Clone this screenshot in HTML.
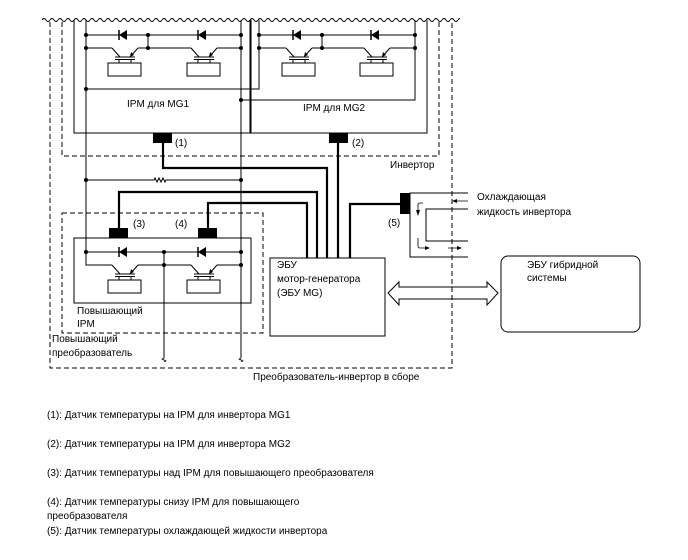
<!DOCTYPE html>
<html><head><meta charset="utf-8"><style>
html,body{margin:0;padding:0;background:#fff}
svg{display:block}
text{font-family:"Liberation Sans",sans-serif;font-size:10px;fill:#000}
</style></head><body>
<svg width="688" height="560" viewBox="0 0 688 560" xmlns="http://www.w3.org/2000/svg">
<defs>
<g id="cell" stroke="#000" stroke-width="1" fill="none">
<polygon points="0,0 8,-5 8,5" fill="#000" stroke="none"/>
<line x1="0" y1="-5" x2="0" y2="5" stroke-width="1.5"/>
<line x1="-7" y1="13" x2="1" y2="22"/>
<line x1="19" y1="13" x2="11" y2="22"/>
<polygon points="11,22 12,17 15,20" fill="#000" stroke="none"/>
<line x1="-4" y1="22" x2="16" y2="22"/>
<line x1="-4" y1="24.5" x2="16" y2="24.5"/>
<line x1="0" y1="24.5" x2="0" y2="28"/>
<line x1="12" y1="24.5" x2="12" y2="28"/>
<rect x="-11" y="28" width="33" height="13"/>
</g>
<pattern id="wave" x="42" y="16" width="8" height="8" patternUnits="userSpaceOnUse">
<path d="M0,4 q2,-3 4,0 q2,3 4,0" stroke="#000" fill="none"/>
</pattern>
</defs>
<!-- wavy top -->
<rect x="42" y="16" width="418" height="8" fill="url(#wave)"/>
<g fill="none" stroke="#000" stroke-width="1">
<!-- dashed boundaries -->
<g stroke-dasharray="5,3">
<path d="M50,22 V368 H452 V22"/>
<path d="M62,22 V156 H439 V22"/>
<rect x="62" y="213" width="201" height="120"/>
</g>
<!-- IPM boxes -->
<path d="M74,20 V133 H250 V20"/>
<path d="M251,20 V133 H427 V20"/>
<rect x="74" y="238" width="177" height="65"/>
<!-- verticals -->
<path d="M86,20 V265 H112"/>
<path d="M241,20 V358"/>
<path d="M259,20 V89 H86"/>
<path d="M415,20 V100 H241"/>
<path d="M148,35 V48 M322,35 V48"/>
<path d="M164,252 V358"/>
<path d="M162,360 q1,-3 2,0 q1,3 2,0 M239,360 q1,-3 2,0 q1,3 2,0"/>
<!-- rows -->
<path d="M86,35 H241 M259,35 H415 M86,252 H241"/>
<path d="M86,48 H112 M138,48 H191 M217,48 H241"/>
<path d="M259,48 H286 M312,48 H364 M390,48 H415"/>
<path d="M138,265 H191 M217,265 H241"/>
<!-- resistor line -->
<path d="M86,180 H154 l1,-2 l2,4 l2,-4 l2,4 l2,-4 l2,4 l1,-2 H241"/>
<!-- ECU box -->
<rect x="270" y="258" width="115" height="78"/>
<!-- hybrid ECU -->
<rect x="501" y="256" width="139" height="76" rx="7"/>
<!-- double arrow -->
<polygon points="388,293 399,282 399,287 487,287 487,282 498,293 487,305 487,299 399,299 399,305"/>
<!-- coolant -->
<path d="M468,193 H410 V257 H468"/>
<path d="M468,209 H426 V241 H468"/>
<path d="M423,203 H420 q-2,0 -2,2 V211 M418,238 V246 q0,2 2,2 H426 M448,248 H458 M468,201 H457" stroke-width="0.8"/>
</g>
<!-- thick wires -->
<g fill="none" stroke="#000" stroke-width="2.2">
<path d="M163,143 V168 H327 V258"/>
<path d="M338,143 V258"/>
<path d="M119,228 V192 H317 V258"/>
<path d="M208,228 V203 H307 V258"/>
<path d="M400,204 H350 V258"/>
</g>
<!-- sensors -->
<g fill="#000">
<rect x="153" y="133" width="19" height="10"/>
<rect x="329" y="133" width="19" height="10"/>
<rect x="109" y="228" width="19" height="10"/>
<rect x="198" y="228" width="19" height="10"/>
<rect x="400" y="193" width="10" height="21"/>
<polygon points="416,210 420,210 418,216"/>
<polygon points="425,246 425,250 430,248"/>
<polygon points="457,246 457,250 462,248"/>
<polygon points="457,199 457,203 452,201"/>
</g>
<!-- cells -->
<use href="#cell" x="119" y="35"/>
<use href="#cell" x="198" y="35"/>
<use href="#cell" x="293" y="35"/>
<use href="#cell" x="371" y="35"/>
<use href="#cell" x="119" y="252"/>
<use href="#cell" x="198" y="252"/>
<!-- dots -->
<g fill="#000">
<circle cx="86" cy="35" r="2"/><circle cx="86" cy="48" r="2"/><circle cx="148" cy="35" r="2"/><circle cx="148" cy="48" r="2"/>
<circle cx="241" cy="35" r="2"/><circle cx="241" cy="48" r="2"/>
<circle cx="259" cy="35" r="2"/><circle cx="259" cy="48" r="2"/><circle cx="322" cy="35" r="2"/><circle cx="322" cy="48" r="2"/>
<circle cx="415" cy="35" r="2"/><circle cx="415" cy="48" r="2"/>
<circle cx="86" cy="89" r="2"/><circle cx="241" cy="100" r="2"/>
<circle cx="86" cy="180" r="2"/><circle cx="241" cy="180" r="2"/>
<circle cx="86" cy="252" r="2"/><circle cx="164" cy="252" r="2"/><circle cx="164" cy="265" r="2"/>
<circle cx="241" cy="252" r="2"/><circle cx="241" cy="265" r="2"/>
</g>
<!-- labels -->
<text x="127" y="107">IPM для MG1</text>
<text x="303" y="111">IPM для MG2</text>
<text x="175" y="146">(1)</text>
<text x="352" y="146">(2)</text>
<text x="390" y="168">Инвертор</text>
<text x="133" y="227">(3)</text>
<text x="175" y="227">(4)</text>
<text x="388" y="226">(5)</text>
<text x="477" y="200">Охлаждающая</text>
<text x="477" y="215">жидкость инвертора</text>
<text x="277" y="268">ЭБУ</text>
<text x="277" y="282">мотор-генератора</text>
<text x="277" y="296">(ЭБУ MG)</text>
<text x="527" y="268">ЭБУ гибридной</text>
<text x="527" y="281">системы</text>
<text x="77" y="314">Повышающий</text>
<text x="77" y="327">IPM</text>
<text x="52" y="342">Повышающий</text>
<text x="52" y="356">преобразователь</text>
<text x="253" y="380">Преобразователь-инвертор в сборе</text>
<text x="47" y="418">(1): Датчик температуры на IPM для инвертора MG1</text>
<text x="47" y="447">(2): Датчик температуры на IPM для инвертора MG2</text>
<text x="47" y="476">(3): Датчик температуры над IPM для повышающего преобразователя</text>
<text x="47" y="505">(4): Датчик температуры снизу IPM для повышающего</text>
<text x="47" y="519">преобразователя</text>
<text x="47" y="534">(5): Датчик температуры охлаждающей жидкости инвертора</text>
</svg>
</body></html>
